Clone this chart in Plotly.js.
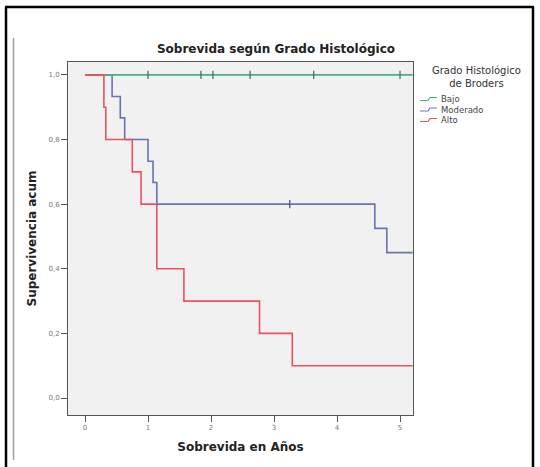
<!DOCTYPE html>
<html>
<head>
<meta charset="utf-8">
<script src="https://cdn.plot.ly/plotly-3.0.1.min.js"></script>
<style>html,body{margin:0;padding:0;background:#fff;}#chart{width:540px;height:467px;}</style>
</head>
<body>
<div id="chart"></div>
<script>
// ---- data ----
const groups = ["Bajo", "Moderado", "Alto"];
const legendTitle = "Grado Histológico<br>de Broders";
const chartTitle = "Sobrevida según Grado Histológico";
const xTitle = "Sobrevida en Años";
const yTitle = "Supervivencia acum";
const xTickVals = [0, 1, 2, 3, 4, 5];
const yTickVals = [0.0, 0.2, 0.4, 0.6, 0.8, 1.0];

const bajoTime = [0, 5.2];
const bajoSurv = [1.0, 1.0];
const bajoCensTime = [1.0, 1.84, 2.03, 2.62, 3.63, 5.0];
const bajoCensSurv = [1.0, 1.0, 1.0, 1.0, 1.0, 1.0];

const moderadoTime = [0, 0.43, 0.56, 0.63, 1.0, 1.08, 1.14, 4.6, 4.79, 5.2];
const moderadoSurv = [1.0, 0.933, 0.867, 0.8, 0.733, 0.667, 0.6, 0.525, 0.45, 0.45];
const moderadoCensTime = [3.25];
const moderadoCensSurv = [0.6];

const altoTime = [0, 0.30, 0.33, 0.75, 0.89, 1.14, 1.57, 2.77, 3.29, 5.2];
const altoSurv = [1.0, 0.9, 0.8, 0.7, 0.6, 0.4, 0.3, 0.2, 0.1, 0.1];

const colors = {Bajo: "#45b08a", Moderado: "#6a72b4", Alto: "#f0505e"};
const censorColors = {Bajo: "#3b6e5e", Moderado: "#45497e"};

// ---- geometry helpers (pixel -> paper) ----
const W = 540, H = 467;
const L = 68, R = 413, T = 62, B = 415;
const px = x => (x - L) / (R - L);
const py = y => (B - y) / (B - T);

function stepTrace(name, t, s) {
  return {x: t, y: s, type: "scatter", mode: "lines", name: name,
    line: {shape: "hv", color: colors[name], width: 1.6}, showlegend: false, hoverinfo: "skip"};
}
function censTrace(name, t, s) {
  return {x: t, y: s, type: "scatter", mode: "markers", name: name + " censurado",
    marker: {symbol: "line-ns-open", size: 6, color: censorColors[name],
             line: {width: 1.2, color: censorColors[name]}},
    showlegend: false, hoverinfo: "skip"};
}

const data = [
  stepTrace("Moderado", moderadoTime, moderadoSurv),
  censTrace("Moderado", moderadoCensTime, moderadoCensSurv),
  stepTrace("Bajo", bajoTime, bajoSurv),
  censTrace("Bajo", bajoCensTime, bajoCensSurv),
  stepTrace("Alto", altoTime, altoSurv)
];

const fontFam = "DejaVu Sans";
// legend drawn manually (compact SPSS-like spacing)
const legendY = [99, 109.5, 120];
const shapes = [
  // outer black frame
  {type: "line", xref: "paper", yref: "paper", x0: px(6), x1: px(6), y0: py(470), y1: py(7), line: {color: "#000", width: 2.5}},
  {type: "line", xref: "paper", yref: "paper", x0: px(5), x1: px(534), y0: py(7), y1: py(7), line: {color: "#000", width: 2.5}},
  {type: "line", xref: "paper", yref: "paper", x0: px(533), x1: px(533), y0: py(470), y1: py(7), line: {color: "#000", width: 2.5}},
  // inner grey line
  {type: "line", xref: "paper", yref: "paper", x0: px(13.5), x1: px(13.5), y0: py(460), y1: py(38), line: {color: "#a0a0a0", width: 1.5}}
];
const annotations = [
  {xref: "paper", yref: "paper", x: px(476), y: py(63), xanchor: "center", yanchor: "top",
   text: legendTitle, showarrow: false, align: "center",
   font: {family: fontFam, size: 10, color: "#333"}}
];
groups.forEach((g, i) => {
  const yc = legendY[i];
  shapes.push({type: "path", xref: "paper", yref: "paper",
    path: `M ${px(420)} ${py(yc + 1.5)} L ${px(428)} ${py(yc + 1.5)} L ${px(430)} ${py(yc - 1.5)} L ${px(437)} ${py(yc - 1.5)}`,
    line: {color: colors[g], width: 1.2}});
  annotations.push({xref: "paper", yref: "paper", x: px(439), y: py(yc), xanchor: "left", yanchor: "middle",
    text: g, showarrow: false, font: {family: fontFam, size: 8.5, color: "#444"}});
});

const axisCommon = {
  showgrid: false, zeroline: false, showline: true, linecolor: "#555", linewidth: 1, mirror: true,
  ticks: "outside", ticklen: 6, tickcolor: "#555", tickwidth: 1,
  tickfont: {family: fontFam, size: 7, color: "#777"}
};
const titleFont = {family: fontFam, size: 12, color: "#222", weight: "bold"};

const layout = {
  width: W, height: H,
  margin: {l: L, r: W - R, t: T, b: H - B, pad: 0},
  paper_bgcolor: "#ffffff", plot_bgcolor: "#f1f1f1",
  separators: ",.",
  title: {text: chartTitle, xref: "paper", x: px(276), xanchor: "center",
          yref: "container", y: 1 - 49 / H, yanchor: "middle", font: titleFont},
  xaxis: Object.assign({}, axisCommon, {range: [-0.27, 5.206], tickvals: xTickVals,
    tickformat: "d", title: {text: xTitle, standoff: 11, font: titleFont}}),
  yaxis: Object.assign({}, axisCommon, {range: [-0.0526, 1.040], tickvals: yTickVals,
    tickformat: ".1f", title: {text: yTitle, standoff: 9, font: titleFont}}),
  shapes: shapes,
  annotations: annotations,
  showlegend: false
};

Plotly.newPlot("chart", data, layout, {displayModeBar: false, staticPlot: true});
</script>
</body>
</html>
